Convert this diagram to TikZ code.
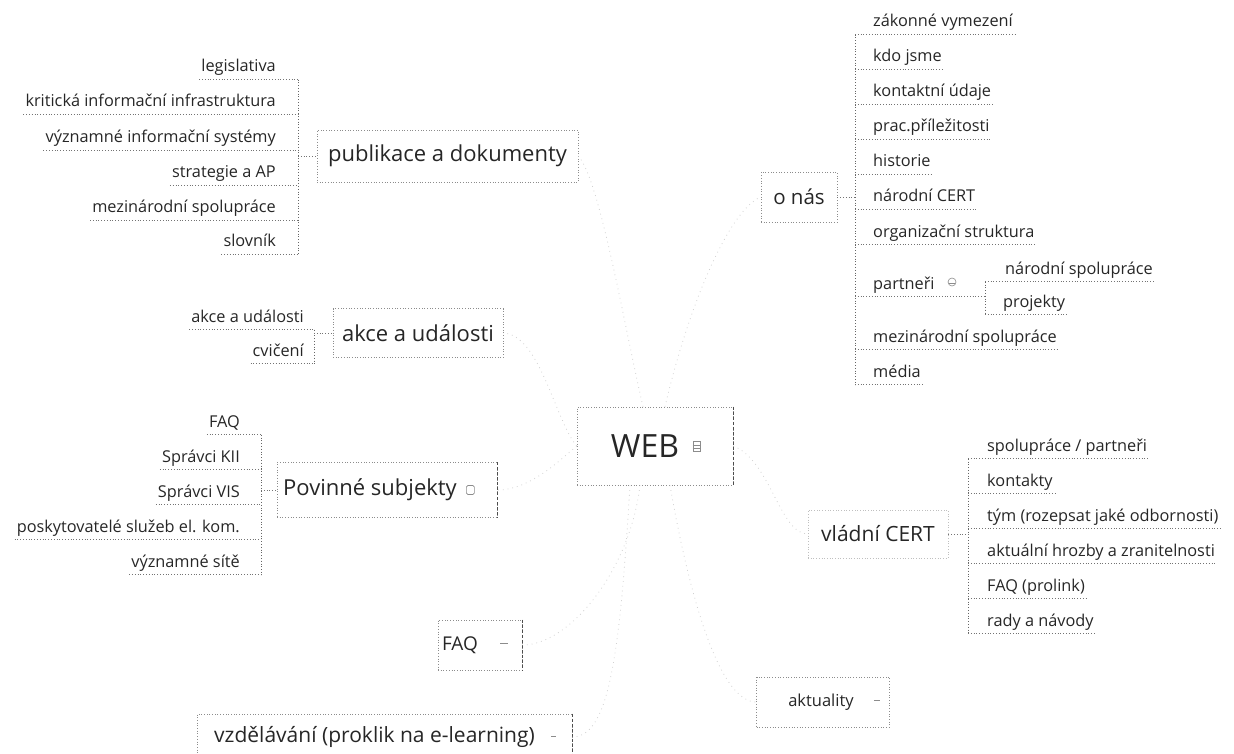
\documentclass[tikz,border=0pt]{standalone}
\usepackage{fontspec}
\setmainfont{Open Sans}
\newcommand{\fs}[1]{\fontsize{#1}{#1}\selectfont}
\newcommand{\gap}[1]{\rule{#1}{0pt}}
\begin{document}
\begin{tikzpicture}[x=1pt,y=-1pt,
  leaf/.style={font=\fs{16.3}, text=black!85, inner xsep=2pt, inner ysep=3.5pt, text height=12pt, text depth=4pt},
  lr/.style={leaf, anchor=east},
  ll/.style={leaf, anchor=west},
  topic/.style={draw=black!45, dotted, line width=0.7pt, font=\fs{22}, text=black!85, inner sep=0pt},
  ul/.style={draw=black!55, dotted, line width=0.8pt},
  brk/.style={draw=black!60, dotted, line width=0.8pt},
  faint/.style={draw=black!18, loosely dotted, line width=0.8pt},
  redge/.style={draw=black!70, densely dashed, line width=0.7pt},
  ico/.style={draw=black!45, line width=0.6pt}
]
\path[use as bounding box] (0,0) rectangle (1234,754);

% ---------- main topics ----------
\node[topic, minimum width=156pt, minimum height=78pt, font=\fs{32}] (web) at (655,446) {WEB\gap{20pt}};
\node[topic, minimum width=261pt, minimum height=52pt] (pub) at (447.5,156) {publikace a dokumenty};
\node[topic, minimum width=170pt, minimum height=49pt] (akce) at (418,333) {akce a události};
\node[topic, minimum width=220pt, minimum height=55pt] (pov) at (387,490) {Povinné subjekty\gap{34pt}};
\node[topic, minimum width=84pt, minimum height=50pt, font=\fs{19}] (faq) at (480,645) {FAQ\gap{40pt}};
\node[topic, minimum width=375pt, minimum height=46pt, font=\fs{21}] (vzd) at (384.5,737) {vzdělávání (proklik na e-learning)\gap{20pt}};
\node[topic, minimum width=76pt, minimum height=50pt, font=\fs{20.5}] (onas) at (799,197) {o nás};
\node[topic, draw=black!25, minimum width=140pt, minimum height=48pt, font=\fs{21}] (cert) at (878,534) {vládní CERT};
\node[topic, minimum width=133pt, minimum height=50pt, font=\fs{16.5}] (akt) at (823,702) {aktuality\gap{4pt}};

\draw[redge] (web.north east) -- (web.south east);
\draw[redge] (faq.north east) -- (faq.south east);
\draw[redge] (vzd.north east) -- (vzd.south east);
\draw[redge] (pov.north east) -- (pov.south east);

% icons
\node[ico, minimum width=7pt, minimum height=10pt, inner sep=0pt] (webi) at ([xshift=-37pt]web.east) {};
\draw[ico] ([yshift=-2.5pt]webi.west) -- ([yshift=-2.5pt]webi.east) ([yshift=1pt]webi.west) -- ([yshift=1pt]webi.east);
\node[ico, rounded corners=1.5pt, minimum width=8pt, minimum height=9pt, inner sep=0pt] (povi) at ([xshift=-27pt]pov.east) {};
\draw[ico] ([xshift=-6pt]faq.east) ++(-16pt,2pt) coordinate (faqi) -- ++(8pt,0);
\draw[ico] ([xshift=-8pt]akt.east) ++(-8pt,2pt) coordinate (akti) -- ++(6pt,0);
\draw[ico] ([xshift=-15pt]vzd.east) ++(-6pt,1pt) coordinate (vzdi) -- ++(5pt,0);

% ---------- publikace a dokumenty ----------
\coordinate (pb) at (298,0);
\node[lr] (p1) at (278,68)  {legislativa};
\node[lr] (p2) at (278,103) {kritická informační infrastruktura};
\node[lr] (p3) at (278,139) {významné informační systémy};
\node[lr] (p4) at (278,174) {strategie a AP};
\node[lr] (p5) at (278,209) {mezinárodní spolupráce};
\node[lr] (p6) at (278,243) {slovník};
\foreach \n in {p1,p2,p3,p4,p5,p6}{\draw[ul] (\n.south west) -- (\n.south -| pb);}
\draw[brk] (p1.south -| pb) -- (p6.south -| pb);
\draw[ul] (pb |- pub.west) -- (pub.west);

% ---------- akce a události ----------
\coordinate (ab) at (314,0);
\node[lr] (a1) at (306,318) {akce a události};
\node[lr] (a2) at (306,352) {cvičení};
\foreach \n in {a1,a2}{\draw[ul] (\n.south west) -- (\n.south -| ab);}
\draw[brk] (a1.south -| ab) -- (a2.south -| ab);
\draw[ul] (ab |- akce.west) -- (akce.west);

% ---------- Povinné subjekty ----------
\coordinate (vb) at (261,0);
\node[lr] (v1) at (242,423) {FAQ};
\node[lr] (v2) at (242,458) {Správci KII};
\node[lr] (v3) at (242,493) {Správci VIS};
\node[lr] (v4) at (242,528) {poskytovatelé služeb el. kom.};
\node[lr] (v5) at (242,563) {významné sítě};
\foreach \n in {v1,v2,v3,v4,v5}{\draw[ul] (\n.south west) -- (\n.south -| vb);}
\draw[brk] (v1.south -| vb) -- (v5.south -| vb);
\draw[ul] (vb |- pov.west) -- (pov.west);

% ---------- o nás ----------
\coordinate (ob) at (855,0);
\node[ll] (o1) at (871,23)  {zákonné vymezení};
\node[ll] (o2) at (871,58)  {kdo jsme};
\node[ll] (o3) at (871,93)  {kontaktní údaje};
\node[ll] (o4) at (871,128) {prac.příležitosti};
\node[ll] (o5) at (871,163) {historie};
\node[ll] (o6) at (871,198) {národní CERT};
\node[ll] (o7) at (871,233) {organizační struktura};
\node[ll] (o8) at (871,285) {partneři\gap{22pt}};
\node[ll] (o9) at (871,338) {mezinárodní spolupráce};
\node[ll] (o10) at (871,373) {média};
\foreach \n in {o1,o2,o3,o4,o5,o6,o7,o9,o10}{\draw[ul] (\n.south -| ob) -- (\n.south east);}
\draw[brk] (o1.south -| ob) -- (o10.south -| ob);
\draw[ul] (onas.east) -- (ob |- onas.east);
% partneři sub-branch
\coordinate (qb) at (985,0);
\node[ico, circle, minimum size=8pt, inner sep=0pt] (o8i) at (952,282) {};
\draw[ico] ([yshift=2pt]o8i.south west) -- ([yshift=2pt]o8i.south east);
\node[ll] (q1) at (1003,270) {národní spolupráce};
\node[ll] (q2) at (1001,303) {projekty};
\draw[ul] (o8.south -| ob) -- (o8.south -| qb);
\draw[brk] (q1.south -| qb) -- (q2.south -| qb);
\foreach \n in {q1,q2}{\draw[ul] (\n.south -| qb) -- (\n.south east);}

% ---------- vládní CERT ----------
\coordinate (cb) at (968,0);
\node[ll] (c1) at (985,447) {spolupráce / partneři};
\node[ll] (c2) at (985,482) {kontakty};
\node[ll] (c3) at (985,517) {tým (rozepsat jaké odbornosti)};
\node[ll] (c4) at (985,552) {aktuální hrozby a zranitelnosti};
\node[ll] (c5) at (985,587) {FAQ (prolink)};
\node[ll] (c6) at (985,622) {rady a návody};
\foreach \n in {c1,c2,c3,c4,c5,c6}{\draw[ul] (\n.south -| cb) -- (\n.south east);}
\draw[brk] (c1.south -| cb) -- (c6.south -| cb);
\draw[ul] (cert.east) -- (cb |- cert.east);

% ---------- faint links from the centre ----------
\draw[faint] ([xshift=-12pt]web.north) .. controls (625,330) and (600,180) .. (pub.east);
\draw[faint] ([xshift=10pt]web.north) .. controls (690,300) and (730,210) .. (onas.west);
\draw[faint] (web.west) .. controls (555,420) and (540,335) .. (akce.east);
\draw[faint] (web.west) .. controls (560,460) and (530,490) .. (pov.east);
\draw[faint] ([xshift=-15pt]web.south) .. controls (630,570) and (570,645) .. (faq.east);
\draw[faint] ([xshift=-25pt]web.south) .. controls (620,650) and (610,737) .. (vzd.east);
\draw[faint] (web.east) .. controls (770,460) and (780,534) .. (cert.west);
\draw[faint] ([xshift=15pt]web.south) .. controls (690,600) and (720,702) .. (akt.west);
\end{tikzpicture}
\end{document}
